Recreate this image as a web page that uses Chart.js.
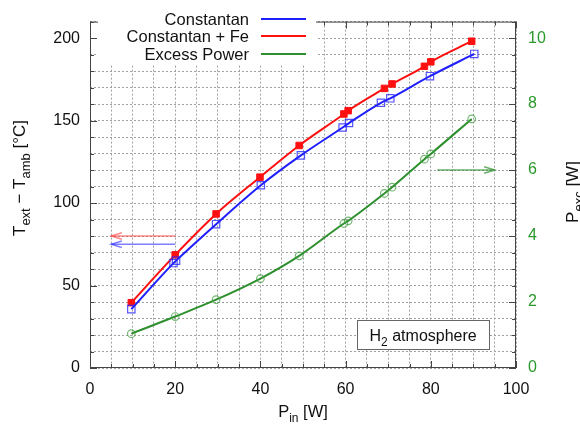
<!DOCTYPE html>
<html>
<head>
<meta charset="utf-8">
<script src="https://cdn.jsdelivr.net/npm/chart.js@4.4.0/dist/chart.umd.min.js"></script>
<style>
  html, body { margin: 0; padding: 0; background: #fff; }
  #wrap { width: 580px; height: 427px; }
</style>
</head>
<body>
<div id="wrap"><canvas id="chart" width="580" height="427"></canvas></div>
<script>
const FONT = "'Liberation Sans', Arial, Helvetica, sans-serif";

// Constantan wire: P_in [W] vs T_ext - T_amb [°C]
const constantanX = [9.7, 19.6, 20.2, 29.6, 40.1, 49.5, 59.3, 60.8, 68.3, 70.5, 79.8, 90.2];
const constantanT = [35.7, 63.6, 65.1, 87.2, 110.8, 128.9, 145.8, 148.5, 160.8, 163.5, 176.9, 190.4];

// Constantan + Fe
const feX = [9.7, 20.0, 29.6, 39.9, 49.1, 59.6, 60.6, 69.1, 70.9, 78.5, 80.0, 89.6];
const feT = [39.6, 68.6, 93.4, 115.7, 134.9, 154.0, 156.0, 169.5, 172.2, 182.9, 185.6, 198.1];

// Excess power [W] (right axis)
const excessX = [9.7, 20.0, 29.6, 40.0, 49.1, 59.6, 60.6, 69.1, 70.9, 78.5, 80.0, 89.6];
const excessP = [1.04, 1.56, 2.07, 2.71, 3.40, 4.38, 4.46, 5.29, 5.48, 6.33, 6.49, 7.55];

const seriesNames = ['Constantan', 'Constantan + Fe', 'Excess Power'];
const seriesColors = ['#1f1fff', '#ff1010', '#2e8f2e'];

const xTickLabels = [0, 20, 40, 60, 80, 100];
const yTickLabels = [0, 50, 100, 150, 200];
const y2TickLabels = [0, 2, 4, 6, 8, 10];

const pts = (xs, ys) => xs.map((x, i) => ({ x, y: ys[i] }));
const near = (v, list) => list.some(t => Math.abs(v - t) < 1e-6);

// draws text with subscripts; parts = [[text, isSub], ...]
const drawRich = (ctx, parts, x, y, size) => {
  const subSize = Math.round(size * 0.75);
  let w = 0;
  parts.forEach(([t, sub]) => {
    ctx.font = `${sub ? subSize : size}px ${FONT}`;
    w += ctx.measureText(t).width;
  });
  let cx = x - w / 2;
  ctx.textAlign = 'left';
  ctx.textBaseline = 'alphabetic';
  parts.forEach(([t, sub]) => {
    ctx.font = `${sub ? subSize : size}px ${FONT}`;
    ctx.fillText(t, cx, sub ? y + size * 0.28 : y);
    cx += ctx.measureText(t).width;
  });
};

const arrow = (ctx, x1, y1, x2, y2, color) => {
  ctx.strokeStyle = color;
  ctx.lineWidth = 1.5;
  ctx.beginPath();
  ctx.moveTo(x1, y1);
  ctx.lineTo(x2, y2);
  ctx.stroke();
  const ang = Math.atan2(y2 - y1, x2 - x1);
  const len = 11, spread = 0.3;
  ctx.beginPath();
  ctx.moveTo(x2 - len * Math.cos(ang - spread), y2 - len * Math.sin(ang - spread));
  ctx.lineTo(x2, y2);
  ctx.lineTo(x2 - len * Math.cos(ang + spread), y2 - len * Math.sin(ang + spread));
  ctx.stroke();
};

const overlay = {
  id: 'overlay',
  afterDatasetsDraw(chart) {
    const { ctx, chartArea: a, scales } = chart;
    const { x, y, y2 } = scales;
    ctx.save();

    // frame
    ctx.strokeStyle = '#444';
    ctx.lineWidth = 1;
    ctx.strokeRect(a.left + 0.5, a.top + 0.5, a.right - a.left - 1, a.bottom - a.top - 1);

    // inward ticks
    ctx.beginPath();
    for (let v = 0; v <= 100; v += 5) {
      const px = Math.round(x.getPixelForValue(v)) + 0.5;
      const len = v % 20 === 0 ? 7 : 4;
      ctx.moveTo(px, a.bottom); ctx.lineTo(px, a.bottom - len);
      ctx.moveTo(px, a.top); ctx.lineTo(px, a.top + len);
    }
    for (let v = 0; v <= 210; v += 10) {
      const py = Math.round(y.getPixelForValue(v)) + 0.5;
      const len = v % 50 === 0 ? 7 : 4;
      ctx.moveTo(a.left, py); ctx.lineTo(a.left + len, py);
    }
    for (let v = 0; v <= 10.5; v += 0.5) {
      const py = Math.round(y2.getPixelForValue(v)) + 0.5;
      const len = Math.abs(v % 2) < 1e-6 ? 7 : 4;
      ctx.moveTo(a.right, py); ctx.lineTo(a.right - len, py);
    }
    ctx.stroke();

    // direction arrows
    arrow(ctx, x.getPixelForValue(20), y.getPixelForValue(80), x.getPixelForValue(5), y.getPixelForValue(80), 'rgba(255,60,60,0.6)');
    arrow(ctx, x.getPixelForValue(20), y.getPixelForValue(75), x.getPixelForValue(5), y.getPixelForValue(75), 'rgba(40,40,255,0.6)');
    arrow(ctx, x.getPixelForValue(81.5), y2.getPixelForValue(6), x.getPixelForValue(95), y2.getPixelForValue(6), 'rgba(46,143,46,0.7)');

    // legend
    ctx.fillStyle = '#fff';
    ctx.fillRect(98, 5, 218, 60);
    const rows = [19, 36, 54];
    seriesNames.forEach((name, i) => {
      ctx.font = `16.5px ${FONT}`;
      ctx.fillStyle = '#111';
      ctx.textAlign = 'right';
      ctx.textBaseline = 'middle';
      ctx.fillText(name, 249, rows[i] + 1);
      ctx.strokeStyle = seriesColors[i];
      ctx.lineWidth = 2;
      ctx.beginPath();
      ctx.moveTo(261, rows[i]);
      ctx.lineTo(306, rows[i]);
      ctx.stroke();
    });

    // H2 atmosphere box
    const bx1 = x.getPixelForValue(62.7), bx2 = x.getPixelForValue(93.7);
    const by1 = y.getPixelForValue(28.8), by2 = y.getPixelForValue(11);
    ctx.fillStyle = '#fff';
    ctx.fillRect(bx1, by1, bx2 - bx1, by2 - by1);
    ctx.strokeStyle = '#666';
    ctx.lineWidth = 1;
    ctx.strokeRect(Math.round(bx1) + 0.5, Math.round(by1) + 0.5, Math.round(bx2 - bx1), Math.round(by2 - by1));
    ctx.fillStyle = '#111';
    drawRich(ctx, [['H', false], ['2', true], [' atmosphere', false]], (bx1 + bx2) / 2, by1 + 21, 16);

    // axis titles
    drawRich(ctx, [['P', false], ['in', true], [' [W]', false]], (a.left + a.right) / 2, 417, 16.5);

    ctx.save();
    ctx.translate(25, 178);
    ctx.rotate(-Math.PI / 2);
    drawRich(ctx, [['T', false], ['ext', true], [' \u2212 T', false], ['amb', true], [' [\u00b0C]', false]], 0, 0, 17);
    ctx.restore();

    ctx.save();
    ctx.translate(578, 192);
    ctx.rotate(-Math.PI / 2);
    drawRich(ctx, [['P', false], ['exc', true], [' [W]', false]], 0, 0, 17);
    ctx.restore();

    ctx.restore();
  }
};

const gridStyle = {
  color: '#a0a0a0',
  lineWidth: 1,
  drawTicks: false
};

new Chart(document.getElementById('chart'), {
  type: 'scatter',
  data: {
    datasets: [
      {
        label: seriesNames[0],
        data: pts(constantanX, constantanT),
        yAxisID: 'y',
        showLine: true,
        borderColor: seriesColors[0],
        borderWidth: 2,
        tension: 0.3,
        cubicInterpolationMode: 'monotone',
        pointStyle: 'rect',
        pointRadius: 5.2,
        pointBorderWidth: 1.2,
        pointBorderColor: 'rgba(40,40,255,0.8)',
        pointBackgroundColor: 'rgba(0,0,0,0)'
      },
      {
        label: seriesNames[1],
        data: pts(feX, feT),
        yAxisID: 'y',
        showLine: true,
        borderColor: seriesColors[1],
        borderWidth: 2,
        tension: 0.3,
        cubicInterpolationMode: 'monotone',
        pointStyle: 'rect',
        pointRadius: 4.6,
        pointBorderWidth: 1,
        pointBorderColor: seriesColors[1],
        pointBackgroundColor: seriesColors[1]
      },
      {
        label: seriesNames[2],
        data: pts(excessX, excessP),
        yAxisID: 'y2',
        showLine: true,
        borderColor: seriesColors[2],
        borderWidth: 2,
        tension: 0.3,
        cubicInterpolationMode: 'monotone',
        pointStyle: 'circle',
        pointRadius: 3.8,
        pointBorderWidth: 1.2,
        pointBorderColor: 'rgba(70,160,70,0.75)',
        pointBackgroundColor: 'rgba(0,0,0,0)'
      }
    ]
  },
  options: {
    responsive: false,
    animation: false,
    devicePixelRatio: 1,
    layout: { padding: { top: 4, left: 0, right: 0, bottom: 0 } },
    plugins: {
      legend: { display: false },
      tooltip: { enabled: false }
    },
    scales: {
      x: {
        type: 'linear',
        min: 0,
        max: 100,
        border: { display: false, dash: [2, 2] },
        grid: gridStyle,
        afterFit: s => { s.height = 59; },
        ticks: {
          stepSize: 5,
          autoSkip: false,
          maxRotation: 0,
          padding: 12,
          color: '#111',
          font: { family: FONT, size: 16 },
          callback: v => near(v, xTickLabels) ? String(v) : ''
        }
      },
      y: {
        type: 'linear',
        position: 'left',
        min: 0,
        max: 210,
        border: { display: false, dash: [2, 2] },
        grid: gridStyle,
        afterFit: s => { s.width = 90; },
        ticks: {
          stepSize: 10,
          autoSkip: false,
          padding: 10,
          color: '#111',
          font: { family: FONT, size: 16 },
          callback: v => near(v, yTickLabels) ? String(v) : ''
        }
      },
      y2: {
        type: 'linear',
        position: 'right',
        min: 0,
        max: 10.5,
        border: { display: false },
        grid: { display: false, drawTicks: false },
        afterFit: s => { s.width = 64; },
        ticks: {
          stepSize: 0.5,
          autoSkip: false,
          padding: 12,
          color: '#2a992a',
          font: { family: FONT, size: 16 },
          callback: v => near(v, y2TickLabels) ? String(Math.round(v)) : ''
        }
      }
    }
  },
  plugins: [overlay]
});
</script>
</body>
</html>
